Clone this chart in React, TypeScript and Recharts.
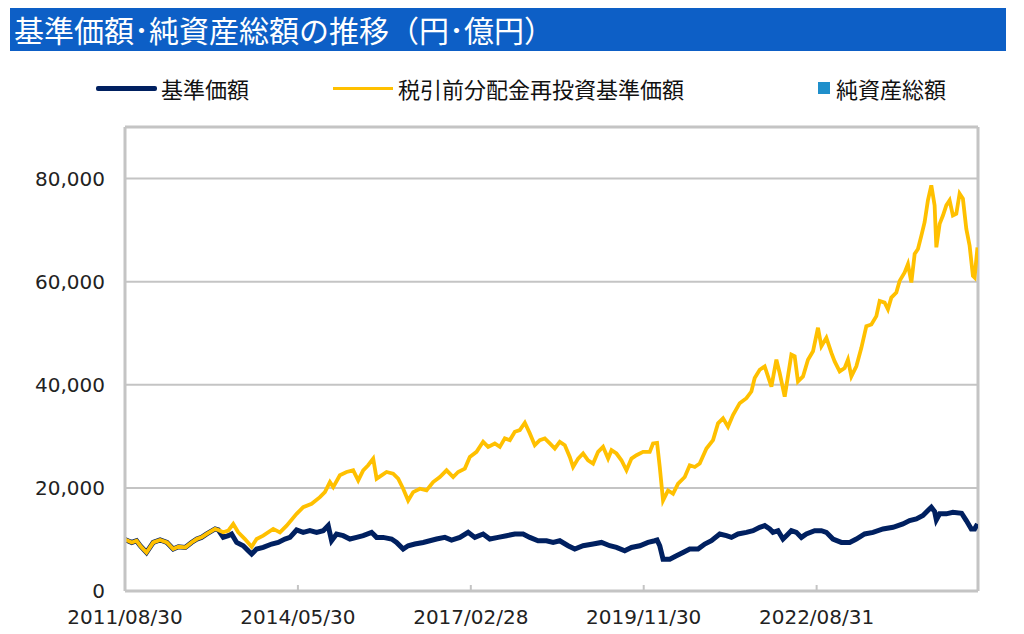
import { LineChart, Line, XAxis, YAxis, CartesianGrid, ReferenceLine } from 'recharts'

// months since 2011/08/30
const sharedMonths = [0, 1.3, 2.2, 2.9, 4.1, 5.4, 6.7, 8.0, 9.2, 10.2, 11.5, 12.7, 13.7, 14.6, 15.6, 17.2, 17.8]
const sharedValues = [10000, 9420, 9750, 8780, 7470, 9420, 9890, 9420, 8130, 8580, 8450, 9420, 10080, 10400, 11060, 12040, 11840]

const navyMonths = [
  18.75, 19.71, 20.35, 21.31, 22.57, 23.52, 24.17, 25.12, 26.38, 27.99, 29.24, 30.52, 31.48, 32.75, 34.01, 35.29,
  36.57, 37.83, 38.78, 39.43, 40.38, 41.64, 42.92, 44.2, 45.46, 47.06, 48.02, 49.27, 50.88, 51.83, 53.09, 54.04,
  55.32, 56.91, 58.18, 59.46, 61.05, 62.32, 63.91, 65.49, 66.77, 68.35, 69.63, 71.21, 72.82, 74.4, 75.98, 77.26,
  78.84, 80.45, 81.71, 82.98, 84.57, 85.84, 87.43, 89.34, 90.94, 92.52, 93.8, 95.38, 96.66, 98.25, 99.83, 101.11,
  101.55, 102.06, 102.69, 103.97, 105.25, 106.5, 107.78, 109.37, 110.65, 111.92, 113.51, 114.78, 115.74, 117.0,
  118.6, 119.86, 121.14, 122.09, 123.05, 123.67, 124.63, 125.58, 126.23, 127.18, 128.14, 129.09, 130.04, 131.63,
  132.91, 133.86, 135.12, 136.72, 138.31, 139.58, 141.17, 142.76, 144.67, 146.58, 148.47, 149.75, 151.03, 152.29,
  153.24, 153.89, 154.52, 154.85, 155.48, 156.75, 158.01, 159.67, 160.57, 161.52, 162.15, 162.7,
]
const navyValues = [
  10400, 10730, 11060, 9420, 8780, 7800, 7160, 8130, 8450, 9110, 9420, 10080, 10400, 11840, 11380, 11700,
  11380, 11700, 12680, 9750, 11060, 10730, 10080, 10400, 10730, 11380, 10400, 10400, 10080, 9420, 8130, 8780,
  9110, 9420, 9750, 10080, 10400, 9890, 10400, 11380, 10400, 11060, 10080, 10400, 10730, 11060, 11060, 10400,
  9750, 9750, 9420, 9750, 8780, 8130, 8780, 9110, 9420, 8780, 8450, 7800, 8450, 8780, 9420, 9750,
  9890, 8780, 6180, 6180, 6830, 7470, 8130, 8130, 9110, 9750, 11060, 10730, 10400, 11060,
  11380, 11700, 12350, 12680, 12040, 11380, 11700, 10080, 10730, 11700, 11380, 10400, 11060, 11700,
  11700, 11380, 10080, 9420, 9420, 10080, 11060, 11380, 12040, 12350, 13010, 13660, 13990, 14630,
  15610, 16250, 15400, 13800, 14960, 14960, 15280, 15080, 13660, 12040, 12040, 13010,
]

const yellowMonths = [
  18.75, 19.71, 20.66, 21.61, 22.89, 24.17, 25.12, 26.38, 28.29, 29.57, 30.85, 32.75, 34.01, 35.62, 37.2, 38.15,
  39.11, 39.74, 41.01, 42.29, 43.55, 44.51, 45.46, 46.41, 47.37, 48.02, 48.97, 49.92, 51.18, 52.14, 53.09, 54.04,
  55.0, 56.28, 57.55, 58.81, 60.09, 61.37, 62.63, 63.58, 64.86, 65.81, 67.09, 68.35, 69.31, 70.58, 71.54, 72.49,
  73.45, 74.4, 75.35, 76.31, 77.26, 78.21, 79.17, 80.12, 81.08, 82.03, 82.98, 83.94, 84.89, 85.52, 86.48, 87.43,
  88.38, 89.34, 90.29, 91.24, 92.2, 92.85, 93.8, 94.75, 95.71, 96.66, 97.62, 98.87, 100.15, 100.78, 101.55, 102.06,
  102.69, 103.65, 104.6, 105.56, 106.83, 107.78, 108.74, 109.69, 110.97, 112.23, 113.18, 114.14, 115.09, 116.04,
  117.32, 118.6, 119.55, 120.18, 121.14, 122.09, 123.37, 124.32, 124.95, 125.91, 127.18, 127.81, 128.44, 129.4,
  130.35, 131.31, 132.26, 132.91, 133.86, 134.82, 135.44, 136.4, 137.35, 137.98, 138.63, 139.58, 140.54, 141.49,
  142.45, 143.4, 144.03, 144.98, 145.61, 146.26, 147.21, 147.84, 148.8, 149.43, 150.08, 150.71, 151.34, 151.99,
  152.61, 153.24, 153.89, 154.52, 154.85, 155.48, 156.11, 156.75, 157.38, 158.01, 158.66, 159.29, 159.92, 160.57,
  161.2, 161.83, 162.15, 162.7,
]
const yellowValues = [
  11380, 11700, 13010, 11380, 10080, 8580, 10080, 10730, 12040, 11380, 12680, 14960, 16250, 16910, 18200, 19180,
  21130, 20150, 22440, 23080, 23410, 21460, 23410, 24390, 25690, 21790, 22440, 23080, 22770, 21790, 19840, 17560,
  19180, 19840, 19510, 21130, 22110, 23410, 22110, 23080, 23740, 26010, 26990, 28940, 27960, 28620, 27960, 29600,
  29270, 30890, 31220, 32640, 30570, 28290, 29270, 29600, 28620, 27640, 28940, 28290, 26010, 24060, 25690, 26670,
  25360, 24720, 26990, 27960, 25690, 27310, 26670, 25360, 23410, 25690, 26340, 26990, 26990, 28620, 28740, 24060,
  17560, 19510, 18870, 20820, 22110, 24390, 24060, 24720, 27640, 29270, 32520, 33500, 31860, 34140,
  36430, 37400, 38690, 41300, 42920, 43570, 39660, 44870, 42280, 37710, 45850, 45520, 40640, 41620,
  44870, 46490, 51060, 47470, 49100, 46180, 44540, 42590, 43250, 44870, 41620, 43570, 47160, 51370,
  51700, 53320, 56250, 55930, 54630, 56910, 57890, 60150, 61790, 63410, 59840, 65360, 66330, 68930,
  71540, 75760, 78690, 74790, 66660, 71210, 72830, 74790, 75760, 72830, 73160, 77060, 76090, 70240,
  66980, 61130, 60810, 66660,
]

const xTicks = [0, 33, 66, 99, 132]
const xTickLabels = ['2011/08/30', '2014/05/30', '2017/02/28', '2019/11/30', '2022/08/31']
const yTicks = [0, 20000, 40000, 60000, 80000]
const X_MAX = 162.8
const Y_MAX = 90000

const toPoints = (ms: number[], vs: number[]) => ms.map((m, i) => ({ m, v: vs[i] }))
const shared = toPoints(sharedMonths, sharedValues)
const navyData = [...shared, ...toPoints(navyMonths, navyValues)]
const yellowData = [...shared, ...toPoints(yellowMonths, yellowValues)]

const NAVY = '#002060'
const YELLOW = '#FFC000'
const GRID = '#C4C4C4'
const axisFont = { fill: '#222', fontSize: 20, fontFamily: 'DejaVu Sans, Verdana, sans-serif' }
const jpFont = '"Noto Sans CJK JP", "Noto Sans", sans-serif'

export default function App() {
  return (
    <div style={{ position: 'relative', width: 1024, height: 634, background: '#fff', fontFamily: jpFont }}>
      <style>{'body{margin:0}'}</style>
      <div
        style={{
          position: 'absolute', left: 10, top: 8, width: 996, height: 43, background: '#0D5FC6',
          color: '#fff', fontSize: 30, lineHeight: '43px', paddingLeft: 4, boxSizing: 'border-box', whiteSpace: 'nowrap',
        }}
      >
        基準価額･純資産総額の推移（円･億円）
      </div>

      {/* legend */}
      <div style={{ position: 'absolute', left: 96, top: 86, width: 61, height: 5, background: NAVY, borderRadius: 2 }} />
      <div style={{ position: 'absolute', left: 161, top: 74, fontSize: 22, lineHeight: '28px', color: '#111' }}>基準価額</div>
      <div style={{ position: 'absolute', left: 333, top: 86.5, width: 60, height: 3.5, background: YELLOW }} />
      <div style={{ position: 'absolute', left: 398, top: 74, fontSize: 22, lineHeight: '28px', color: '#111' }}>税引前分配金再投資基準価額</div>
      <div style={{ position: 'absolute', left: 818, top: 82, width: 12, height: 12, background: '#1F8FCB' }} />
      <div style={{ position: 'absolute', left: 836, top: 74, fontSize: 22, lineHeight: '28px', color: '#111' }}>純資産総額</div>

      <div style={{ position: 'absolute', left: 0, top: 0 }}>
        <LineChart width={1024} height={634} margin={{ top: 127, right: 46, bottom: 0, left: 0 }}>
          <CartesianGrid vertical={false} stroke={GRID} strokeWidth={2} />
          <XAxis
            type="number"
            dataKey="m"
            domain={[0, X_MAX]}
            ticks={xTicks}
            tickFormatter={(v: number) => xTickLabels[xTicks.indexOf(v)] ?? ''}
            tick={axisFont}
            axisLine={{ stroke: GRID, strokeWidth: 3 }}
            tickLine={{ stroke: GRID, strokeWidth: 2 }}
            tickSize={-6}
            tickMargin={25}
            height={43}
            allowDataOverflow
            interval={0}
          />
          <YAxis
            type="number"
            domain={[0, Y_MAX]}
            ticks={yTicks}
            tickFormatter={(v: number) => v.toLocaleString('en-US')}
            tick={axisFont}
            axisLine={{ stroke: GRID, strokeWidth: 3 }}
            tickLine={false}
            tickSize={0}
            tickMargin={20}
            width={125}
            interval={0}
          />
          <ReferenceLine y={Y_MAX} stroke={GRID} strokeWidth={3} />
          <ReferenceLine x={X_MAX} stroke={GRID} strokeWidth={3} />
          <Line data={navyData} dataKey="v" stroke={NAVY} strokeWidth={5} dot={false} isAnimationActive={false} />
          <Line data={yellowData} dataKey="v" stroke={YELLOW} strokeWidth={3.8} dot={false} isAnimationActive={false} />
        </LineChart>
      </div>
    </div>
  )
}
